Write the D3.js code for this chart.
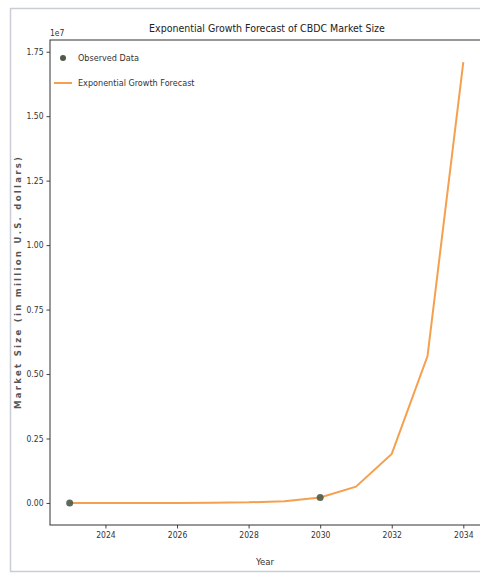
<!DOCTYPE html>
<html><head><meta charset="utf-8">
<script src="https://cdn.jsdelivr.net/npm/d3@7"></script>
<style>body{margin:0;background:#fff}svg{display:block}</style>
</head><body>
<svg id="c" width="480" height="578"></svg>
<script>
const years = [2023,2024,2025,2026,2027,2028,2029,2030,2031,2032,2033,2034];
const forecast = [97,290,870,2600,7800,23500,70400,211000,633000,1900000,5700000,17100000];
const observedYears = [2023,2030];
const observedValues = [97,211000];
const xTicks = [2024,2026,2028,2030,2032,2034];
const yTicks = [0,2500000,5000000,7500000,10000000,12500000,15000000,17500000];
const title = "Exponential Growth Forecast of CBDC Market Size";

const svg = d3.select("#c");
const font = "'DejaVu Sans Condensed','DejaVu Sans',sans-serif";
const L=50,T=40,R=483,B=525;
// outer frame
svg.append("rect").attr("x",10.5).attr("y",8.5).attr("width",480).attr("height",563)
  .attr("fill","none").attr("stroke","#c9ced6").attr("stroke-width",1.5);

const x = d3.scaleLinear().domain([2022.45,2034.55]).range([L,R]);
const y = d3.scaleLinear().domain([-855000,17955000]).range([B,T]);

const gx = svg.append("g").attr("transform",`translate(0,${B})`)
  .call(d3.axisBottom(x).tickValues(xTicks).tickFormat(d3.format("d")).tickSize(3.5).tickPadding(3));
const gy = svg.append("g").attr("transform",`translate(${L},0)`)
  .call(d3.axisLeft(y).tickValues(yTicks).tickFormat(d=>(d/1e7).toFixed(2)).tickSize(3.5).tickPadding(3));
[gx,gy].forEach(g=>{g.select(".domain").remove();
  g.selectAll("text").attr("font-family",font).attr("font-size",8.5).attr("fill","#333");
  g.selectAll("line").attr("stroke","#444");});
// frame
svg.append("rect").attr("x",L).attr("y",T).attr("width",R-L).attr("height",B-T)
  .attr("fill","none").attr("stroke","#333").attr("stroke-width",1);

const line = d3.line().x((d,i)=>x(years[i])).y(d=>y(d));
svg.append("path").datum(forecast).attr("d",line).attr("fill","none")
  .attr("stroke","#f5a04f").attr("stroke-width",2);
svg.selectAll("circle.obs").data(observedValues).join("circle").attr("class","obs")
  .attr("cx",(d,i)=>x(observedYears[i])).attr("cy",d=>y(d)).attr("r",3.5)
  .attr("fill","#4f5a48").attr("opacity",0.9);

// legend
svg.append("circle").attr("cx",63).attr("cy",58).attr("r",3).attr("fill","#4f5a48");
svg.append("text").attr("x",78).attr("y",61).text("Observed Data")
  .attr("font-family",font).attr("font-size",9).attr("fill","#333");
svg.append("line").attr("x1",54).attr("x2",72).attr("y1",83).attr("y2",83)
  .attr("stroke","#f5a04f").attr("stroke-width",2);
svg.append("text").attr("x",78).attr("y",86).text("Exponential Growth Forecast")
  .attr("font-family",font).attr("font-size",9).attr("fill","#333");

svg.append("text").attr("x",267).attr("y",32).attr("text-anchor","middle").text(title)
  .attr("font-family",font).attr("font-size",10.5).attr("fill","#222");
svg.append("text").attr("x",50).attr("y",36).text("1e7")
  .attr("font-family",font).attr("font-size",8.5).attr("fill","#333");
svg.append("text").attr("x",265).attr("y",565).attr("text-anchor","middle").text("Year")
  .attr("font-family",font).attr("font-size",9.5).attr("fill","#333");
svg.append("text").attr("transform","translate(21,283) rotate(-90)").attr("text-anchor","middle")
  .text("Market Size (in million U.S. dollars)")
  .attr("textLength",252).attr("lengthAdjust","spacing")
  .attr("font-family","'DejaVu Sans',sans-serif").attr("font-weight","bold").attr("font-size",8.5).attr("fill","#555");
</script>
</body></html>
